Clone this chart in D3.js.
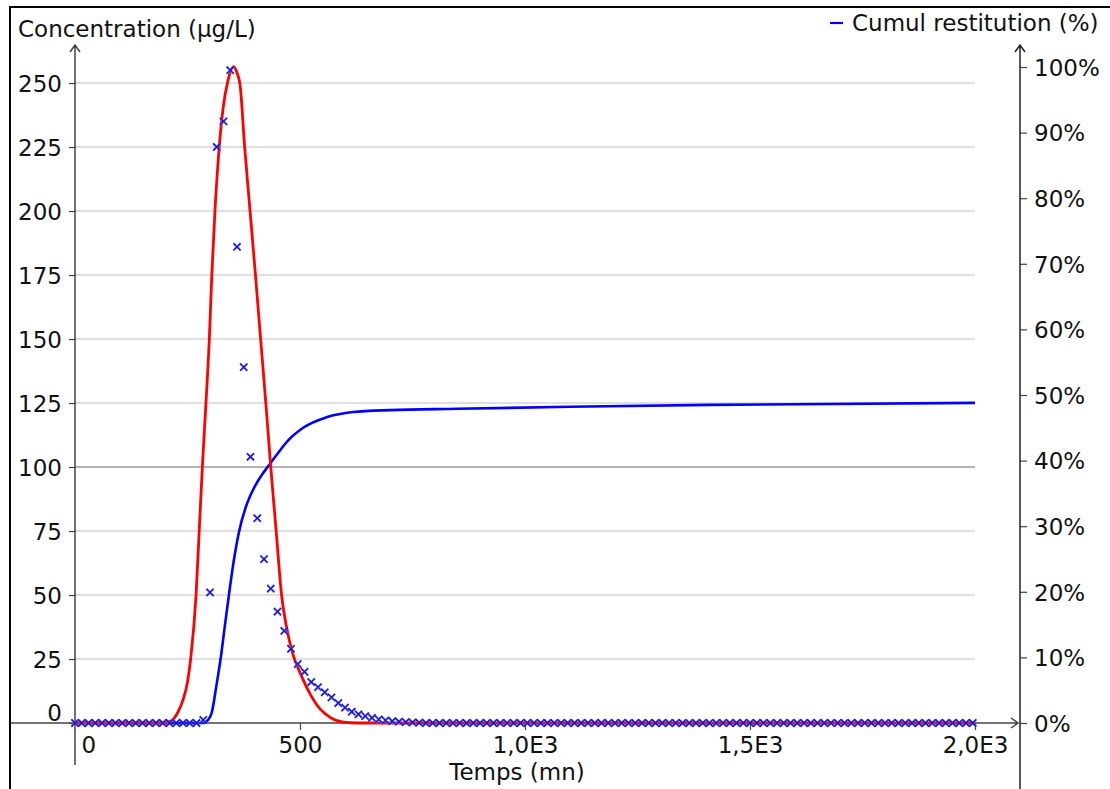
<!DOCTYPE html>
<html>
<head>
<meta charset="utf-8">
<script src="https://cdn.jsdelivr.net/npm/d3@7/dist/d3.min.js"></script>
<style>
  html, body { margin: 0; padding: 0; background: #fff; }
  svg { display: block; }
  text { font-family: "DejaVu Sans", "Liberation Sans", Arial, sans-serif; fill: #111; }
</style>
</head>
<body>
<svg id="chart" width="1110" height="789"></svg>
<script>
// Measured concentrations, one sample every 15 min from t = 0 to 1995 mn
const sampleStep = 15;
const measuredConc = [
  0, 0, 0, 0, 0, 0, 0, 0, 0, 0,
  0, 0, 0, 0, 0, 0, 0, 0, 0,
  1.2, 51, 225, 235, 255, 186, 139, 104, 80, 64,
  52.5, 43.5, 36, 29, 23, 20, 16, 14, 12, 10,
  7.8, 6, 4.4, 3.4, 2.7, 2.0, 1.4, 1.0, 0.7, 0.5,
  0.35, 0.2, 0.1,
  0, 0, 0, 0, 0, 0, 0, 0, 0, 0,
  0, 0, 0, 0, 0, 0, 0, 0, 0, 0,
  0, 0, 0, 0, 0, 0, 0, 0, 0, 0,
  0, 0, 0, 0, 0, 0, 0, 0, 0, 0,
  0, 0, 0, 0, 0, 0, 0, 0, 0, 0,
  0, 0, 0, 0, 0, 0, 0, 0, 0, 0,
  0, 0, 0, 0, 0, 0, 0, 0, 0, 0,
  0, 0, 0, 0, 0, 0, 0, 0, 0, 0,
  0, 0
];

// Fitted breakthrough curve (µg/L)
const modelTime = [0, 195, 215, 228, 240, 250, 257, 269, 276, 283, 291, 298.5, 304, 311, 320.5, 329, 340, 352, 360, 367, 377, 389, 401, 412.5, 424, 435, 447, 459, 470, 484, 503, 522, 544, 567, 596, 630, 2000];
const modelConc = [0, 0, 1, 4, 9, 16, 25, 50, 75, 100, 125, 150, 175, 200, 225, 240, 251, 256.4, 254, 249, 225, 200, 175, 150, 125, 100, 75, 50, 37.5, 27, 18.5, 11.5, 5.6, 2.2, 0.3, 0, 0];

// Cumulative restitution (%)
const cumulTime = [0, 285, 295, 304, 314, 324, 333, 342, 353, 365, 380, 396, 413, 431, 455, 470, 507, 559, 618, 700, 850, 1100, 1411, 2000];
const cumulPct = [0, 0, 0.4, 1.6, 5.6, 10, 14.8, 19.5, 24.8, 29.3, 33.0, 35.6, 37.6, 39.3, 41.5, 42.8, 45.0, 46.6, 47.4, 47.7, 47.9, 48.2, 48.5, 48.8];

const concTicks = [0, 25, 50, 75, 100, 125, 150, 175, 200, 225, 250];
const pctTicks = [0, 10, 20, 30, 40, 50, 60, 70, 80, 90, 100];
const timeTicks = [0, 500, 1000, 1500, 2000];
const timeTickLabels = ["0", "500", "1,0E3", "1,5E3", "2,0E3"];

const svg = d3.select("#chart");

const x = d3.scaleLinear().domain([0, 2000]).range([75, 975]);
const y = d3.scaleLinear().domain([0, 250]).range([723, 83]);
const yR = d3.scaleLinear().domain([0, 100]).range([723, 67]);

// frame
svg.append("path")
  .attr("d", "M10,789 L10,7 L1110,7")
  .attr("fill", "none").attr("stroke", "#000").attr("stroke-width", 2);

// horizontal grid
svg.append("g").selectAll("line")
  .data(concTicks.filter(d => d > 0))
  .join("line")
  .attr("x1", x(0)).attr("x2", x(2000))
  .attr("y1", d => y(d)).attr("y2", d => y(d))
  .attr("stroke", d => d === 100 ? "#9a9a9a" : "#d4d4d4")
  .attr("stroke-width", 1.5);

const axisColor = "#444";

// left axis
const gL = svg.append("g").attr("transform", `translate(${x(0)},0)`)
  .call(d3.axisLeft(y).tickValues(concTicks).tickSize(6).tickPadding(7));
gL.select(".domain").remove();
gL.selectAll(".tick line").attr("stroke", axisColor).attr("stroke-width", 1.2);
gL.selectAll(".tick text")
  .style("font-size", "23px")
  .attr("dy", d => d === 0 ? "-0.12em" : "0.36em");

// right axis
const gR = svg.append("g").attr("transform", "translate(1020,0)")
  .call(d3.axisRight(yR).tickValues(pctTicks).tickSize(7).tickPadding(7).tickFormat(d => d + "%"));
gR.select(".domain").remove();
gR.selectAll(".tick line").attr("stroke", axisColor).attr("stroke-width", 1.2);
gR.selectAll(".tick text").style("font-size", "23px").attr("dy", "0.36em");

// bottom axis
const gB = svg.append("g").attr("transform", `translate(0,${y(0)})`)
  .call(d3.axisBottom(x).tickValues(timeTicks).tickSize(7).tickPadding(10)
    .tickFormat((d, i) => timeTickLabels[i]));
gB.select(".domain").remove();
gB.selectAll(".tick line").attr("stroke", axisColor).attr("stroke-width", 1.2)
  .attr("opacity", d => d === 0 ? 0 : 1);
gB.selectAll(".tick text").style("font-size", "23px")
  .attr("text-anchor", d => d === 0 ? "start" : "middle")
  .attr("x", d => d === 0 ? 6 : 0)
  .attr("y", 30).attr("dy", 0);

// axis lines with open arrow heads
const lines = svg.append("g").attr("fill", "none").attr("stroke", axisColor).attr("stroke-width", 1.5);
lines.append("path").attr("d", `M${x(0)},765 L${x(0)},45 M${x(0) - 5},52 L${x(0)},45 L${x(0) + 5},52`);
lines.append("path").attr("d", `M11,${y(0)} L1018,${y(0)} M1011,${y(0) - 5} L1018,${y(0)} L1011,${y(0) + 5}`);
lines.append("path").attr("d", "M1020,789 L1020,45 M1015,52 L1020,45 L1025,52").attr("stroke", "#222");

// cumulative restitution curve
svg.append("path")
  .datum(cumulTime.map((t, i) => [t, cumulPct[i]]))
  .attr("fill", "none").attr("stroke", "#0000ff").attr("stroke-width", 2.6)
  .attr("d", d3.line().x(d => x(d[0])).y(d => yR(d[1])).curve(d3.curveMonotoneX));

// fitted concentration curve
svg.append("path")
  .datum(modelTime.map((t, i) => [t, modelConc[i]]))
  .attr("fill", "none").attr("stroke", "#ff0000").attr("stroke-width", 2.8)
  .attr("d", d3.line().x(d => x(d[0])).y(d => y(d[1])).curve(d3.curveMonotoneX));

// measured samples as crosses
const s = 3.6;
const marks = svg.append("g").selectAll("g")
  .data(measuredConc.map((c, i) => [i * sampleStep, c]))
  .join("g")
  .attr("transform", d => `translate(${x(d[0])},${y(d[1])})`);
marks.append("path")
  .attr("d", `M${-s},${-s}L${s},${s}M${-s},${s}L${s},${-s}`)
  .attr("stroke", "#9a9ae8").attr("stroke-width", 2.6).attr("fill", "none").attr("opacity", 0.6);
marks.append("path")
  .attr("d", `M${-s},${-s}L${s},${s}M${-s},${s}L${s},${-s}`)
  .attr("stroke", "#1414d4").attr("stroke-width", 1.5).attr("fill", "none");

// titles
svg.append("text").attr("x", 18).attr("y", 37).style("font-size", "23px").text("Concentration (µg/L)");
svg.append("text").attr("x", 517).attr("y", 780).attr("text-anchor", "middle").style("font-size", "23px").text("Temps (mn)");

// legend
svg.append("line").attr("x1", 830).attr("x2", 843).attr("y1", 23).attr("y2", 23)
  .attr("stroke", "#0000ff").attr("stroke-width", 2.2);
svg.append("text").attr("x", 852).attr("y", 31).style("font-size", "23px").text("Cumul restitution (%)");
</script>
</body>
</html>
